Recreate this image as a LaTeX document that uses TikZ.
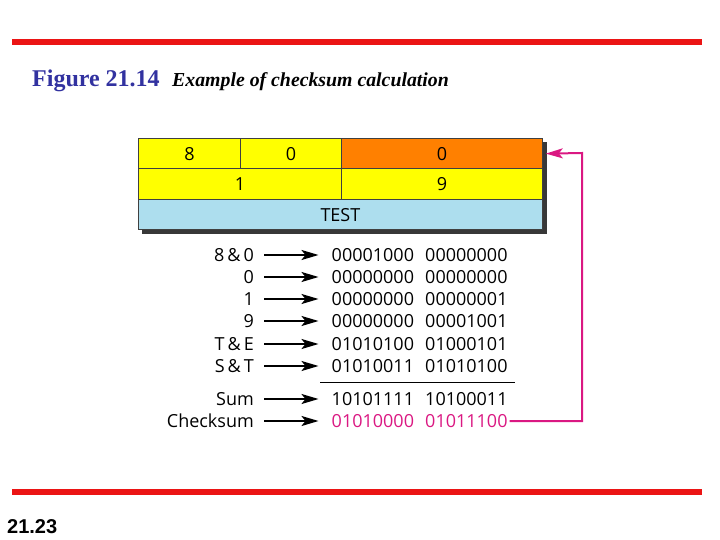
\documentclass[tikz,border=0pt]{standalone}
\usepackage{fontspec}
\setmainfont{Liberation Serif}
\newfontfamily\figsans{Open Sans}
\newfontfamily\pagesans{Liberation Sans}
\usetikzlibrary{arrows.meta}
\definecolor{redbar}{RGB}{235,20,20}
\definecolor{figblue}{RGB}{50,50,160}
\definecolor{cellyellow}{RGB}{255,255,0}
\definecolor{cellorange}{RGB}{255,128,0}
\definecolor{cellblue}{RGB}{173,222,238}
\definecolor{magentaline}{RGB}{218,24,130}
\tikzset{
  cell/.style={draw=black!75, line width=0.8pt, minimum height=30.5pt, inner sep=0pt, font=\figsans\fontsize{18}{18}\selectfont},
  lab/.style={anchor=east, inner sep=0pt, text height=13.5pt, text depth=0pt, font=\figsans\fontsize{18}{18}\selectfont},
  bin/.style={anchor=west, inner sep=0pt, text height=13.5pt, text depth=0pt, font=\figsans\fontsize{18}{18}\selectfont},
  tip/.style={-{Stealth[length=17pt,width=10pt,inset=4pt]}},
  arr/.style={line width=2.2pt, tip},
  bar/.style={redbar, line width=6pt}
}
\begin{document}
\begin{tikzpicture}[x=1pt,y=-1pt]
\useasboundingbox (0,0) rectangle (720,540);
% red bars
\draw[bar] (12,42.5) -- (702,42.5);
\draw[bar] (12,492) -- (702,492);
% title
\node[anchor=base west, inner sep=0pt, text=figblue, font=\bfseries\fontsize{24}{24}\selectfont] (fig) at (32,87) {Figure 21.14};
\node[anchor=base west, inner sep=0pt, font=\bfseries\itshape\fontsize{19.8}{19.8}\selectfont] (cap) at (172,87) {Example of checksum calculation};
\node[anchor=base west, inner sep=0pt, font=\pagesans\bfseries\fontsize{20}{20}\selectfont] (pg) at (7,533) {21.23};
% shadow
\fill[black!78] (142,142) rectangle (546.5,234);
% cells
\node[cell, fill=cellyellow, minimum width=102pt, anchor=north west] (c8) at (138,138) {8};
\node[cell, fill=cellyellow, minimum width=101pt, anchor=north west] (c0) at (240,138) {0};
\node[cell, fill=cellorange, minimum width=201pt, anchor=north west] (cs) at (341,138) {0};
\node[cell, fill=cellyellow, minimum width=203pt, anchor=north west] (c1) at (138,168.5) {1};
\node[cell, fill=cellyellow, minimum width=201pt, anchor=north west] (c9) at (341,168.5) {9};
\node[cell, fill=cellblue, minimum width=404pt, anchor=north west] (ct) at (138,199) {TEST};
% labels
\foreach \i/\y/\l/\a/\b in {1/255/8\,\&\,0/00001000/00000000,
                           2/277/0/00000000/00000000,
                           3/299/1/00000000/00000001,
                           4/321/9/00000000/00001001,
                           5/344/T\,\&\,E/01010100/01000101,
                           6/366/S\,\&\,T/01010011/01010100,
                           7/399/Sum/10101111/10100011}{
  \node[lab] (l\i) at (254,\y) {\l};
  \node[bin] (a\i) at (331.5,\y) {\a};
  \node[bin] (b\i) at (425,\y) {\b};
  \draw[arr] ([xshift=10pt]l\i.east) -- ([xshift=-13pt]a\i.west);
}
\node[lab] (l8) at (254,421) {Checksum};
\node[bin, text=magentaline] (a8) at (331.5,421) {01010000};
\node[bin, text=magentaline] (b8) at (425,421) {01011100};
\draw[arr] ([xshift=10pt]l8.east) -- ([xshift=-13pt]a8.west);
% sum rule
\coordinate (r1) at (320,382);
\coordinate (r2) at (515,382);
\draw[line width=1pt] (r1) -- (r2);
% feedback
\coordinate (fb1) at (582,421);
\coordinate (fb2) at (582,153);
\draw[magentaline, line width=2pt, tip]
  ([xshift=2pt]b8.east) -- (fb1) -- (fb2) -- ([xshift=3pt]cs.east);
\end{tikzpicture}
\end{document}
